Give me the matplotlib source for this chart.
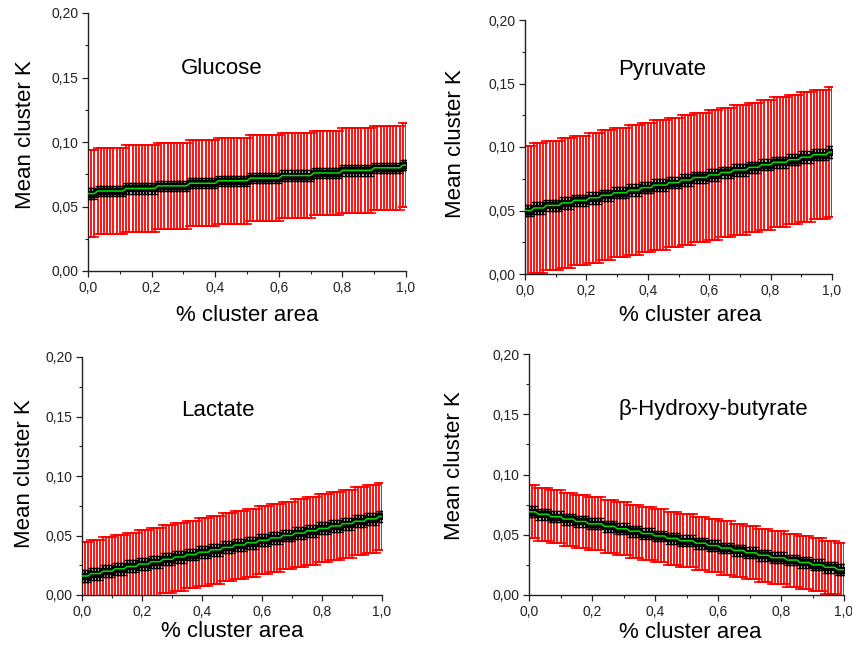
import numpy as np
import matplotlib
matplotlib.use('Agg')
import matplotlib.pyplot as plt
from matplotlib.ticker import MultipleLocator, FixedLocator, FixedFormatter

plt.rcParams['font.family'] = ['Liberation Sans', 'DejaVu Sans']

# ---------------- data ----------------
x_values = np.round(np.arange(101) * 0.01, 2)          # % cluster area, 0.00 .. 1.00

x_ticks = [0.0, 0.2, 0.4, 0.6, 0.8, 1.0]
x_tick_labels = ["0,0", "0,2", "0,4", "0,6", "0,8", "1,0"]
y_ticks = [0.00, 0.05, 0.10, 0.15, 0.20]
y_tick_labels = ["0,00", "0,05", "0,10", "0,15", "0,20"]

names = ["Glucose", "Pyruvate", "Lactate", "\u03b2-Hydroxy-butyrate"]

# mean values as step levels and the number of points at each level
glucose_mean_levels = [0.060, 0.062, 0.064, 0.066, 0.068, 0.070, 0.072, 0.074,
                       0.076, 0.078, 0.080, 0.082]
glucose_runs = [3, 9, 10, 10, 9, 10, 10, 10, 9, 10, 9, 2]
glucose_sd_levels = [0.0338, 0.0336, 0.0335, 0.0334, 0.0333, 0.0332, 0.0331,
                     0.0330, 0.0329, 0.0328, 0.0327, 0.0326]
glucose_sem = 0.004

pyruvate_mean_levels = [0.050, 0.052, 0.054, 0.056, 0.058, 0.060, 0.062, 0.064,
                        0.066, 0.068, 0.070, 0.072, 0.074, 0.076, 0.078, 0.080,
                        0.082, 0.084, 0.086, 0.088, 0.090, 0.092, 0.094, 0.096]
pyruvate_runs = [3, 4, 5, 4, 5, 4, 4, 5, 4, 4, 5, 4, 4, 5, 4, 4, 5, 4, 4, 5,
                 4, 4, 5, 2]
pyruvate_sd = 0.051
pyruvate_sem = 0.0045

lactate_mean_levels = [0.016, 0.018, 0.020, 0.022, 0.024, 0.026, 0.028, 0.030,
                       0.032, 0.034, 0.036, 0.038, 0.040, 0.042, 0.044, 0.046,
                       0.048, 0.050, 0.052, 0.054, 0.056, 0.058, 0.060, 0.062,
                       0.064, 0.066]
lactate_runs = [3] + [4] * 24 + [2]
lactate_sd = 0.0285
lactate_sem = 0.005

bhb_mean_levels = [0.069, 0.067, 0.065, 0.063, 0.061, 0.059, 0.057, 0.055,
                   0.053, 0.051, 0.049, 0.047, 0.045, 0.043, 0.041, 0.039,
                   0.037, 0.035, 0.033, 0.031, 0.029, 0.027, 0.025, 0.023,
                   0.021]
bhb_runs = [3, 4, 4, 4, 4, 5, 4, 4, 4, 4, 4, 4, 5, 4, 4, 4, 4, 4, 4, 5,
            4, 4, 4, 4, 3]
bhb_sd = 0.022
bhb_sem = 0.0045

glucose_mean = np.repeat(glucose_mean_levels, glucose_runs)
glucose_sd = np.repeat(glucose_sd_levels, glucose_runs)
pyruvate_mean = np.repeat(pyruvate_mean_levels, pyruvate_runs)
lactate_mean = np.repeat(lactate_mean_levels, lactate_runs)
bhb_mean = np.repeat(bhb_mean_levels, bhb_runs)

series = [
    (glucose_mean, glucose_sd, glucose_sem),
    (pyruvate_mean, pyruvate_sd, pyruvate_sem),
    (lactate_mean, lactate_sd, lactate_sem),
    (bhb_mean, bhb_sd, bhb_sem),
]

# ---------------- layout ----------------
W, H = 852, 646
fig = plt.figure(figsize=(W / 100, H / 100), dpi=100)

# (left px, right px, top px, bottom px) of each plot area
boxes = [(88, 406, 13, 271), (525, 832, 20, 274), (82, 382, 357, 595), (529, 844, 354, 595)]
ylabel_pos = [(-0.198, 0.53), (-0.228, 0.512), (-0.19, 0.508), (-0.235, 0.535)]
xlabel_pos = [(0.5, -0.174), (0.537, -0.165), (0.5, -0.155), (0.511, -0.154)]
title_pos = [(0.421, 0.783), (0.446, 0.807), (0.453, 0.777), (0.584, 0.768)]

for i, (name, (mean, sd, sem)) in enumerate(zip(names, series)):
    l, r, t, b = boxes[i]
    ax = fig.add_axes([l / W, 1 - b / H, (r - l) / W, (b - t) / H])
    ax.errorbar(x_values, mean, yerr=sd, fmt='none', ecolor='#ff0000',
                elinewidth=1.3, capsize=3.4, capthick=1.2, zorder=2)
    ax.errorbar(x_values, mean, yerr=sem, fmt='s', color='black', ms=4.5,
                mec='black', mfc='black', ecolor='black',
                elinewidth=1.3, capsize=2.0, capthick=1.0, zorder=3)
    ax.plot(x_values, mean, color='#00e000', lw=1.1, zorder=5)

    ax.set_xlim(0, 1)
    ax.set_ylim(0, 0.2)
    ax.xaxis.set_major_locator(FixedLocator(x_ticks))
    ax.xaxis.set_major_formatter(FixedFormatter(x_tick_labels))
    ax.yaxis.set_major_locator(FixedLocator(y_ticks))
    ax.yaxis.set_major_formatter(FixedFormatter(y_tick_labels))
    ax.xaxis.set_minor_locator(MultipleLocator(0.1))
    ax.yaxis.set_minor_locator(MultipleLocator(0.025))
    ax.tick_params(which='major', direction='out', length=4, width=0.9,
                   labelsize=10, colors='#222222', pad=3)
    ax.tick_params(which='minor', direction='out', length=2, width=0.8, colors='#222222')
    for s in ('top', 'right'):
        ax.spines[s].set_visible(False)
    for s in ('left', 'bottom'):
        ax.spines[s].set_linewidth(1.0)
        ax.spines[s].set_color('#222222')

    ax.set_ylabel("Mean cluster K", fontsize=16)
    ax.yaxis.set_label_coords(*ylabel_pos[i])
    ax.yaxis.label.set_va('center')
    ax.set_xlabel("% cluster area", fontsize=16)
    ax.xaxis.set_label_coords(*xlabel_pos[i])
    ax.xaxis.label.set_va('center')
    ax.text(title_pos[i][0], title_pos[i][1], name, transform=ax.transAxes,
            ha='center', va='center', fontsize=16)

fig.savefig("out.png", dpi=100)
